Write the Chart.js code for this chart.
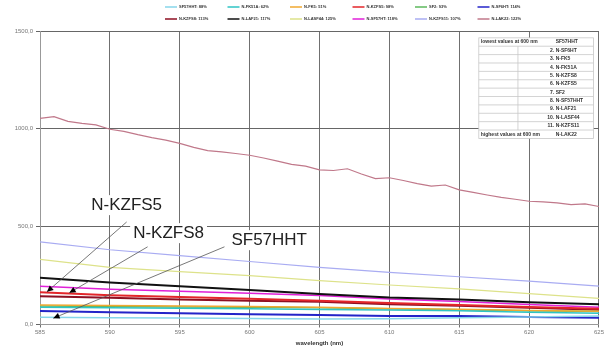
<!DOCTYPE html>
<html>
<head>
<meta charset="utf-8">
<script src="https://cdn.jsdelivr.net/npm/chart.js@4/dist/chart.umd.min.js"></script>
<style>
  html, body { margin: 0; padding: 0; background: #fff; }
  #wrap { width: 605px; height: 351px; }
</style>
</head>
<body>
<div id="wrap"><canvas id="chart" width="605" height="351"></canvas></div>
<script>
// Transmission-style curves 585-625 nm.

const wavelengths = [585, 586, 587, 588, 589, 590, 591, 592, 593, 594, 595, 596, 597, 598, 599, 600,
  601, 602, 603, 604, 605, 606, 607, 608, 609, 610, 611, 612, 613, 614, 615, 616, 617, 618, 619, 620,
  621, 622, 623, 624, 625];
const coarseWavelengths = [585, 590, 595, 600, 605, 610, 615, 620, 625];
const xTicks = [585, 590, 595, 600, 605, 610, 615, 620, 625];
const yTicks = [0, 500, 1000, 1500];

const seriesNames = ["SF57HHT", "N-FK51A", "N-FK5", "N-KZFS5", "SF2", "N-SF6HT",
  "N-KZFS8", "N-LAF21", "N-LASF44", "N-SF57HT", "N-KZFS11", "N-LAK22"];
const legendPercents = [88, 62, 51, 98, 93, 114, 113, 117, 125, 118, 107, 122];
const seriesColors = ["#86d6ea", "#2fc4c4", "#f0a830", "#e3262a", "#5cb85c", "#2424c8",
  "#8e0f22", "#111111", "#dde28a", "#e020d8", "#a9acf2", "#c0788a"];
const seriesWidths = [1.5, 1.5, 1.5, 2, 1.5, 2, 2, 2, 1.2, 1.5, 1.2, 1.2];

// values on the 5 nm grid
const sf57hht = [37, 35, 33, 31, 28, 30, 34, 38, 43];
const nfk51a = [88, 85, 83, 80, 77, 74, 70, 62, 57];
const nfk5 = [100, 97, 95, 92, 88, 82, 78, 72, 68];
const nkzfs5 = [165, 150, 140, 131, 122, 110, 100, 89, 80];
const sf2 = [94, 92, 90, 88, 85, 80, 76, 70, 66];
const nsf6ht = [69, 62, 57, 52, 48, 44, 43, 38, 35];
const nkzfs8 = [145, 137, 128, 122, 116, 104, 96, 86, 76];
const nlaf21 = [239, 215, 195, 176, 156, 138, 128, 114, 103];
const nlasf44 = [333, 292, 270, 250, 224, 202, 182, 158, 134];
const nsf57ht = [195, 180, 170, 160, 148, 130, 118, 102, 88];
const nkzfs11 = [422, 382, 352, 322, 292, 266, 244, 222, 196];
// N-LAK22 on the 1 nm grid (it wobbles)
const nlak22 = [1053, 1062, 1038, 1028, 1020, 998, 987, 970, 955, 942, 926, 905, 889, 882, 874, 865,
  851, 835, 818, 809, 790, 787, 796, 769, 746, 750, 736, 720, 707, 713, 688, 675, 662, 650, 640, 630,
  627, 622, 613, 616, 603];

const seriesValues = [sf57hht, nfk51a, nfk5, nkzfs5, sf2, nsf6ht, nkzfs8, nlaf21, nlasf44, nsf57ht, nkzfs11, nlak22];

// callouts: text position, leader start, arrow tip (data units)
const callouts = [
  { text: "N-KZFS5", at: [591.2, 610], from: [591.2, 524], to: [585.5, 167] },
  { text: "N-KZFS8", at: [594.2, 467], from: [592.7, 397], to: [587.1, 162] },
  { text: "SF57HHT", at: [601.4, 431], from: [598.2, 397], to: [585.95, 32] },
];

const rankHeader = "lowest values at 600 nm";
const rankFooter = "highest values at 600 nm";
const rankNames = ["SF57HHT", "N-SF6HT", "N-FK5", "N-FK51A", "N-KZFS8", "N-KZFS5", "SF2",
  "N-SF57HHT", "N-LAF21", "N-LASF44", "N-KZFS11", "N-LAK22"];

const FONT = "'Liberation Sans', Arial, sans-serif";

function pointsFor(i) {
  const xs = seriesNames[i] === "N-LAK22" ? wavelengths : coarseWavelengths;
  return seriesValues[i].map((v, k) => ({ x: xs[k], y: v }));
}

const datasets = seriesNames.map((name, i) => ({
  label: `${name}: ${legendPercents[i]}%`,
  data: pointsFor(i),
  borderColor: seriesColors[i],
  backgroundColor: seriesColors[i],
  borderWidth: seriesWidths[i],
  pointRadius: 0,
  tension: 0,
  fill: false,
}));

// small two-row legend, six entries per row like the original
const gridLegend = {
  id: "gridLegend",
  afterDraw(chart) {
    const ctx = chart.ctx;
    ctx.save();
    ctx.font = `bold 4px ${FONT}`;
    ctx.textBaseline = "middle";
    ctx.textAlign = "left";
    chart.data.datasets.forEach((ds, i) => {
      const col = i % 6, row = Math.floor(i / 6);
      const lx = 165 + col * 62.5, ly = 7 + row * 12;
      ctx.strokeStyle = ds.borderColor;
      ctx.lineWidth = 1.5;
      ctx.beginPath(); ctx.moveTo(lx, ly); ctx.lineTo(lx + 12, ly); ctx.stroke();
      ctx.fillStyle = "#333";
      ctx.fillText(ds.label, lx + 14, ly);
    });
    ctx.restore();
  },
};

const calloutPlugin = {
  id: "callouts",
  afterDatasetsDraw(chart) {
    const { ctx, scales: { x, y } } = chart;
    ctx.save();
    ctx.font = `17px ${FONT}`;
    ctx.textAlign = "center";
    ctx.textBaseline = "middle";
    callouts.forEach(c => {
      const fx = x.getPixelForValue(c.from[0]), fy = y.getPixelForValue(c.from[1]);
      const tx = x.getPixelForValue(c.to[0]), ty = y.getPixelForValue(c.to[1]);
      ctx.strokeStyle = "#555";
      ctx.lineWidth = 0.8;
      ctx.beginPath(); ctx.moveTo(fx, fy); ctx.lineTo(tx, ty); ctx.stroke();
      const ang = Math.atan2(ty - fy, tx - fx);
      ctx.fillStyle = "#000";
      ctx.beginPath();
      ctx.moveTo(tx, ty);
      ctx.lineTo(tx - 7 * Math.cos(ang - 0.45), ty - 7 * Math.sin(ang - 0.45));
      ctx.lineTo(tx - 7 * Math.cos(ang + 0.45), ty - 7 * Math.sin(ang + 0.45));
      ctx.closePath(); ctx.fill();
      const px = x.getPixelForValue(c.at[0]), py = y.getPixelForValue(c.at[1]);
      const w = ctx.measureText(c.text).width;
      ctx.fillStyle = "#fff";
      ctx.fillRect(px - w / 2 - 3, py - 10, w + 6, 20);
      ctx.fillStyle = "#222";
      ctx.fillText(c.text, px, py);
    });
    ctx.restore();
  },
};

const tablePlugin = {
  id: "rankTable",
  afterDraw(chart) {
    const { ctx, scales: { x, y } } = chart;
    const left = x.getPixelForValue(616.4), right = x.getPixelForValue(624.6);
    const top = y.getPixelForValue(1465), bottom = y.getPixelForValue(951);
    const mid = x.getPixelForValue(619.2);
    const rowH = (bottom - top) / rankNames.length;
    const nameX = x.getPixelForValue(621.9);
    ctx.save();
    ctx.fillStyle = "#fff";
    ctx.fillRect(left, top, right - left, bottom - top);
    ctx.strokeStyle = "#c8c8c8";
    ctx.lineWidth = 0.8;
    ctx.strokeRect(left, top, right - left, bottom - top);
    for (let r = 1; r < rankNames.length; r++) {
      ctx.beginPath(); ctx.moveTo(left, top + r * rowH); ctx.lineTo(right, top + r * rowH); ctx.stroke();
    }
    ctx.beginPath(); ctx.moveTo(mid, top + rowH); ctx.lineTo(mid, bottom - rowH); ctx.stroke();
    ctx.font = `bold 5px ${FONT}`;
    ctx.fillStyle = "#333";
    ctx.textBaseline = "middle";
    rankNames.forEach((name, r) => {
      const cy = top + (r + 0.5) * rowH;
      if (r === 0 || r === rankNames.length - 1) {
        ctx.textAlign = "left";
        ctx.fillText(r === 0 ? rankHeader : rankFooter, left + 2, cy);
      } else {
        ctx.textAlign = "right";
        ctx.fillText(`${r + 1}.`, nameX - 1.5, cy);
      }
      ctx.textAlign = "left";
      ctx.fillText(name, nameX, cy);
    });
    ctx.restore();
  },
};

new Chart(document.getElementById("chart"), {
  type: "line",
  data: { datasets },
  plugins: [calloutPlugin, tablePlugin, gridLegend],
  options: {
    responsive: false,
    animation: false,
    layout: { padding: { left: 0, right: 5, top: 31, bottom: 0 } },
    plugins: {
      legend: { display: false },
      tooltip: { enabled: false },
    },
    scales: {
      x: {
        type: "linear",
        min: 585,
        max: 625,
        afterBuildTicks: s => { s.ticks = xTicks.map(v => ({ value: v })); },
        afterFit: s => { s.height = 26.5; },
        grid: { color: "#707070", lineWidth: 1, tickLength: 3 },
        border: { color: "#999" },
        ticks: { color: "#777", font: { size: 6, family: FONT }, padding: 1, maxRotation: 0 },
        title: { display: true, text: "wavelength (nm)", color: "#333", padding: { top: 1, bottom: 4 },
          font: { size: 6, weight: "bold", family: FONT } },
      },
      y: {
        min: 0,
        max: 1500,
        afterBuildTicks: s => { s.ticks = yTicks.map(v => ({ value: v })); },
        afterFit: s => { s.width = 40; },
        grid: { color: "#666", lineWidth: 1, tickLength: 4 },
        border: { color: "#999" },
        ticks: {
          color: "#777",
          font: { size: 6, family: FONT },
          callback: v => v.toFixed(1).replace(".", ","),
        },
      },
    },
  },
});
</script>
</body>
</html>
